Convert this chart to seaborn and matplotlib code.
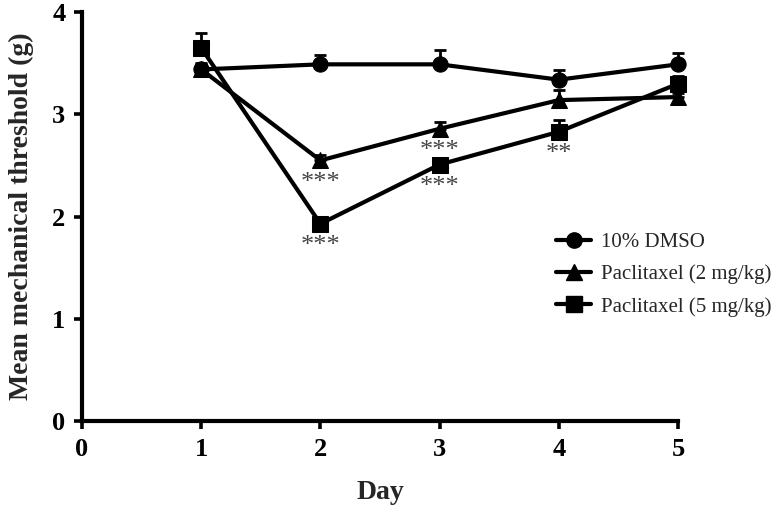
import numpy as np
import pandas as pd
import matplotlib
matplotlib.use("Agg")
import matplotlib.pyplot as plt
import seaborn as sns

# ---------------------- data ----------------------
days = [1, 2, 3, 4, 5]
groups = ["10% DMSO", "Paclitaxel (2 mg/kg)", "Paclitaxel (5 mg/kg)"]
dmso_mean = [3.44, 3.49, 3.49, 3.34, 3.49]
dmso_err = [0.06, 0.09, 0.14, 0.09, 0.11]
ptx2_mean = [3.44, 2.55, 2.86, 3.14, 3.17]
ptx2_err = [0.05, 0.05, 0.07, 0.10, 0.04]
ptx5_mean = [3.65, 1.93, 2.51, 2.83, 3.30]
ptx5_err = [0.15, 0.06, 0.05, 0.12, 0.08]
# significance labels (group, day index, text)
sig_marks = [
    ("Paclitaxel (2 mg/kg)", 1, "***"),
    ("Paclitaxel (5 mg/kg)", 1, "***"),
    ("Paclitaxel (2 mg/kg)", 2, "***"),
    ("Paclitaxel (5 mg/kg)", 2, "***"),
    ("Paclitaxel (5 mg/kg)", 3, "**"),
]

means = {groups[0]: dmso_mean, groups[1]: ptx2_mean, groups[2]: ptx5_mean}
errs = {groups[0]: dmso_err, groups[1]: ptx2_err, groups[2]: ptx5_err}
markers = {groups[0]: "o", groups[1]: "^", groups[2]: "s"}

df = pd.DataFrame([
    {"Day": d, "threshold": m, "group": g}
    for g in groups for d, m in zip(days, means[g])
])

sns.set_style("ticks")
plt.rcParams["font.family"] = ["Liberation Serif", "DejaVu Serif"]

fig = plt.figure(figsize=(7.74, 5.08), dpi=100)
ax = fig.add_axes([0.106, 0.171, 0.770, 0.805])

# error bars (upper only)
for g in groups:
    e = np.array(errs[g])
    ax.errorbar(days, means[g], yerr=[np.zeros_like(e), e], fmt="none",
                ecolor="black", elinewidth=2.0, capsize=4, capthick=2.0,
                clip_on=False, zorder=2)

sns.lineplot(data=df, x="Day", y="threshold", style="group", hue="group",
             palette=["black"] * 3, markers=markers, dashes=False,
             linewidth=3.0, markersize=11, markeredgecolor="black",
             ax=ax, legend=False, clip_on=False, zorder=3)

for g, i, txt in sig_marks:
    ax.annotate(txt, xy=(days[i], means[g][i]), xytext=(0, -8),
                textcoords="offset points", ha="center", va="top",
                fontsize=19, color="#444444")

ax.set_xlim(0, 5)
ax.set_ylim(0, 4)
ax.set_xticks(range(0, 6))
ax.set_yticks(range(0, 5))
ax.set_xlabel("Day", fontsize=20, fontweight="bold", labelpad=14)
ax.set_ylabel("Mean mechanical threshold (g)", fontsize=20, fontweight="bold", labelpad=13)
for lbl in ax.get_xticklabels() + ax.get_yticklabels():
    lbl.set_fontweight("bold")
ax.tick_params(axis="both", direction="out", length=6, width=2.6,
               labelsize=19, color="black", labelcolor="black")
ax.tick_params(axis="x", pad=6)
ax.tick_params(axis="y", pad=6)
sns.despine(ax=ax)
for s in ["left", "bottom"]:
    ax.spines[s].set_linewidth(3.0)
    ax.spines[s].set_color("black")

handles = [plt.Line2D([], [], color="black", lw=3.0, marker=markers[g],
                      markersize=11) for g in groups]
fig.legend(handles, groups, loc="upper left", bbox_to_anchor=(0.694, 0.579),
           frameon=False, fontsize=15, handlelength=1.7, handletextpad=0.45,
           labelspacing=0.6)

fig.savefig("out.png", dpi=100)
